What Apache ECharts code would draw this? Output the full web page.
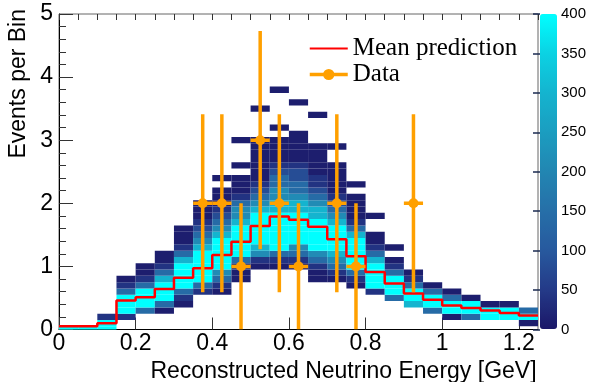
<!DOCTYPE html>
<html>
<head>
<meta charset="utf-8">
<script src="https://cdn.jsdelivr.net/npm/echarts@6/dist/echarts.min.js"></script>
<style>
  html, body { margin: 0; padding: 0; background: #fff; }
  #chart { width: 598px; height: 382px; }
</style>
</head>
<body>
<div id="chart"></div>
<script>
// x bins of 0.05 GeV, y rows of 0.1 events (centred on multiples of 0.1)
const binWidth = 0.05;
const rowHeight = 0.1;

// mean prediction per x bin
const meanPrediction = [0.05, 0.05, 0.10, 0.46, 0.51, 0.64, 0.82, 0.97, 1.18, 1.39, 1.64, 1.79, 1.74,
  1.63, 1.43, 1.16, 0.91, 0.73, 0.57, 0.47, 0.38, 0.34, 0.30, 0.26, 0.22];

// data points with sqrt(n) error bars
const dataX = [0.375, 0.425, 0.475, 0.525, 0.575, 0.625, 0.725, 0.775, 0.925];
const dataY = [2, 2, 1, 3, 2, 1, 2, 1, 2];
const dataErr = [1.41, 1.41, 1.0, 1.73, 1.41, 1.0, 1.41, 1.0, 1.41];

// 2D histogram: lowest filled row per x bin, then counts going up (0 = empty)
const lowRow = [0, 0, 0, 2, 3, 3, 4, 6, 6, 8, 10, 10, 10, 8, 8, 7, 6, 5, 4, 3, 2, 2, 2, 2, 1];
const cellCounts = [
  [400],
  [400],
  [400, 400, 40],
  [40, 400, 400, 400, 140, 40, 10],
  [140, 400, 400, 400, 140, 40, 10, 10],
  [10, 140, 400, 400, 400, 300, 140, 40, 10, 10],
  [10, 40, 140, 400, 400, 400, 400, 300, 140, 40, 10, 10, 10],
  [40, 140, 400, 400, 400, 400, 400, 300, 210, 140, 80, 40, 10, 10, 10],
  [10, 40, 140, 210, 400, 400, 400, 400, 400, 300, 210, 140, 80, 40, 10, 10, 10, 0, 10],
  [10, 10, 40, 140, 400, 400, 400, 400, 400, 300, 210, 210, 140, 40, 10, 10, 10, 0, 10, 0, 0, 0, 10],
  [10, 40, 210, 300, 400, 400, 400, 400, 400, 300, 210, 140, 80, 40, 10, 10, 10, 10, 10, 10, 10, 0, 0, 0, 0, 10],
  [10, 40, 140, 400, 400, 400, 400, 400, 400, 300, 300, 210, 210, 140, 140, 80, 40, 10, 10, 10, 10, 0, 10, 0, 0, 0, 0, 0, 10],
  [10, 40, 140, 210, 400, 400, 400, 400, 400, 300, 300, 210, 140, 140, 80, 80, 40, 10, 10, 10, 10, 10, 0, 0, 0, 0, 10],
  [10, 10, 40, 140, 210, 400, 400, 400, 400, 400, 300, 300, 210, 140, 80, 40, 40, 10, 10, 10, 10, 10, 0, 0, 0, 0, 10],
  [10, 40, 140, 210, 300, 400, 400, 400, 400, 300, 210, 140, 80, 40, 10, 10, 10, 10, 10, 0, 0, 10],
  [10, 40, 140, 400, 400, 400, 400, 400, 300, 140, 40, 10, 10, 10, 10, 0, 10],
  [40, 400, 400, 400, 400, 300, 140, 40, 10, 10, 0, 0, 10],
  [140, 400, 400, 400, 140, 40, 10, 0, 10],
  [300, 400, 400, 140, 40, 10],
  [140, 400, 400, 140, 10],
  [10, 400, 400, 140, 10],
  [140, 400, 400, 10],
  [400, 400, 10],
  [400, 400, 10],
  [10, 400, 140]
];

// axis ticks
const xTicks = [0, 0.2, 0.4, 0.6, 0.8, 1.0, 1.2];
const paletteColors = ['#1b1768', '#243a88', '#27599e', '#266fa8', '#2286b2', '#1b9dc0', '#14b4cf', '#0bd2e3', '#00ffff'];

const cells = [];
cellCounts.forEach(function (col, i) {
  col.forEach(function (count, k) {
    if (count > 0) cells.push([i * binWidth, (lowRow[i] + k) * rowHeight, count]);
  });
});

const meanLine = meanPrediction.map(function (v, i) { return [i * binWidth, v]; });
meanLine.push([meanPrediction.length * binWidth, meanPrediction[meanPrediction.length - 1]]);

const points = dataX.map(function (x, i) { return [x, dataY[i]]; });
const errBars = dataX.map(function (x, i) { return [x, dataY[i], dataErr[i]]; });

const sans = 'Liberation Sans, Arial, Helvetica, sans-serif';
const orange = '#ffa000';

const chart = echarts.init(document.getElementById('chart'), null, { renderer: 'canvas' });
chart.setOption({
  backgroundColor: '#fff',
  animation: false,
  grid: [
    { left: 59, top: 14, right: 60, bottom: 52.5, show: true, borderColor: '#666', borderWidth: 1,
      backgroundColor: 'transparent', containLabel: false, outerBoundsMode: 'none' },
    { left: 540, top: 14, width: 17, bottom: 52.5, containLabel: false, outerBoundsMode: 'none' }
  ],
  legend: {
    orient: 'vertical',
    left: 303,
    top: 31,
    itemWidth: 38,
    itemHeight: 14,
    itemGap: 1,
    textStyle: { fontFamily: 'Liberation Serif, Times New Roman, serif', fontSize: 25, color: '#000' },
    data: [
      { name: 'Mean prediction', itemStyle: { opacity: 0 } },
      { name: 'Data', lineStyle: { opacity: 1, width: 3.5, color: orange } }
    ]
  },
  visualMap: {
    type: 'continuous',
    min: 0,
    max: 400,
    dimension: 2,
    seriesIndex: 0,
    calculable: false,
    left: 540,
    top: 14,
    itemWidth: 17,
    itemHeight: 315,
    padding: 0,
    text: ['', ''],
    inRange: { color: paletteColors },
    z: 2
  },
  xAxis: [
    {
      type: 'value', gridIndex: 0, min: 0, max: 1.25, interval: 0.2,
      axisLine: { lineStyle: { color: '#000', width: 1 } },
      axisTick: { inside: true, length: 12, customValues: xTicks, lineStyle: { color: '#333' } },
      axisLabel: { customValues: xTicks, fontSize: 23, fontFamily: sans, color: '#000', margin: 3 },
      splitLine: { show: false },
      name: 'Reconstructed Neutrino Energy [GeV]',
      nameLocation: 'middle',
      nameGap: 24,
      nameTextStyle: { fontSize: 23, fontFamily: sans, color: '#000', padding: [0, 0, 0, 90] }
    },
    {
      type: 'value', gridIndex: 0, min: 0, max: 1.25, interval: 0.05,
      axisLine: { show: false },
      axisTick: { inside: true, length: 6, lineStyle: { color: '#333' } },
      axisLabel: { show: false },
      splitLine: { show: false }
    },
    { type: 'value', gridIndex: 1, min: 0, max: 1, show: false }
  ],
  yAxis: [
    {
      type: 'value', gridIndex: 0, min: 0, max: 5, interval: 1,
      axisLine: { show: true, lineStyle: { color: '#000', width: 1 } },
      axisTick: { show: true, inside: true, length: 14, lineStyle: { color: '#333' } },
      minorTick: { show: true, splitNumber: 5, length: 7, lineStyle: { color: '#333' } },
      axisLabel: { fontSize: 23, fontFamily: sans, color: '#000', margin: 6 },
      splitLine: { show: false },
      name: 'Events per Bin',
      nameLocation: 'end',
      nameGap: 5,
      nameRotate: 90,
      nameTextStyle: { fontSize: 23, fontFamily: sans, color: '#000', align: 'right', verticalAlign: 'bottom', padding: [0, 0, 29, 0] }
    },
    {
      type: 'value', gridIndex: 1, position: 'right', min: 0, max: 400, interval: 50, z: 10,
      axisLine: { show: false },
      axisTick: { show: true, inside: true, length: 7, lineStyle: { color: '#1a2a50', width: 1.5 } },
      axisLabel: { fontSize: 15, fontFamily: sans, color: '#000', margin: 4 },
      splitLine: { show: false }
    }
  ],
  series: [
    {
      type: 'custom',
      xAxisIndex: 0,
      yAxisIndex: 0,
      clip: true,
      z: 1,
      data: cells,
      encode: { x: 0, y: 1 },
      renderItem: function (params, api) {
        const x0 = api.value(0);
        const yc = api.value(1);
        const p1 = api.coord([x0, yc + rowHeight / 2]);
        const p2 = api.coord([x0 + binWidth, yc - rowHeight / 2]);
        return {
          type: 'rect',
          shape: { x: p1[0], y: p1[1], width: p2[0] - p1[0], height: p2[1] - p1[1] },
          style: { fill: api.visual('color') }
        };
      }
    },
    {
      name: 'Mean prediction',
      type: 'line',
      step: 'end',
      data: meanLine,
      symbol: 'none',
      showSymbol: false,
      lineStyle: { color: '#ff0000', width: 2.5 },
      itemStyle: { color: '#ff0000' },
      z: 3
    },
    {
      type: 'custom',
      clip: true,
      z: 4,
      data: errBars,
      encode: { x: 0, y: 1 },
      renderItem: function (params, api) {
        const x = api.value(0), y = api.value(1), e = api.value(2);
        const top = api.coord([x, y + e]);
        const bot = api.coord([x, y - e]);
        const l = api.coord([x - binWidth / 2, y]);
        const r = api.coord([x + binWidth / 2, y]);
        const st = { stroke: orange, lineWidth: 3.5 };
        return {
          type: 'group',
          children: [
            { type: 'line', shape: { x1: top[0], y1: top[1], x2: bot[0], y2: bot[1] }, style: st },
            { type: 'line', shape: { x1: l[0], y1: l[1], x2: r[0], y2: r[1] }, style: st }
          ]
        };
      }
    },
    {
      name: 'Data',
      type: 'line',
      data: points,
      symbol: 'circle',
      symbolSize: 10,
      showSymbol: true,
      lineStyle: { width: 0, opacity: 0 },
      itemStyle: { color: orange },
      z: 5
    }
  ]
});
</script>
</body>
</html>
